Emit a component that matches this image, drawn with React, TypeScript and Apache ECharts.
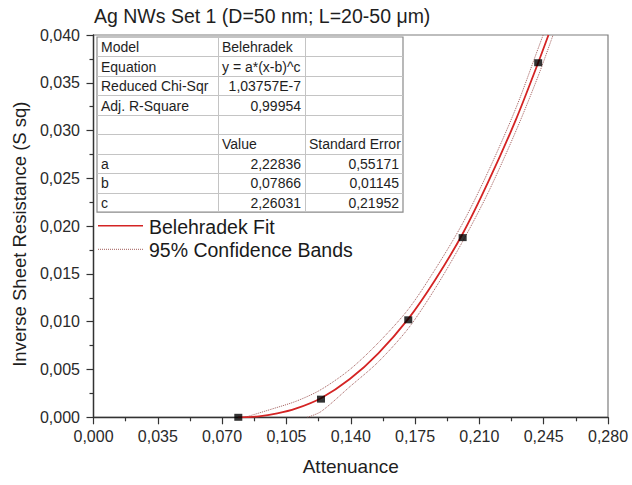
import React, { useEffect, useRef } from "react";
import * as echarts from "echarts";

const titleText = "Ag NWs Set 1 (D=50 nm; L=20-50 μm)";
const xAxisName = "Attenuance";
const yAxisName = "Inverse Sheet Resistance (S sq)";

// measured data points
const pointX = [0.0788, 0.1238, 0.1713, 0.2009, 0.242];
const pointY = [0.0, 0.0019, 0.0102, 0.0188, 0.0371];

// fit curve
const fitX = [0.0787, 0.09, 0.1, 0.11, 0.1238, 0.1395, 0.155, 0.1713, 0.186, 0.2009, 0.215, 0.23, 0.242, 0.2476];
const fitY = [0, 0.0001, 0.0004, 0.0009, 0.002, 0.004, 0.0067, 0.0103, 0.0144, 0.0192, 0.0247, 0.0312, 0.0371, 0.04];

// 95% confidence bands
const upperX = [0.0824, 0.096, 0.1105, 0.1238, 0.1395, 0.155, 0.1713, 0.186, 0.2009, 0.215, 0.23, 0.242, 0.2447];
const upperY = [0, 0.0008, 0.0017, 0.0029, 0.005, 0.0078, 0.0113, 0.0155, 0.0203, 0.0258, 0.0324, 0.0386, 0.04];
const lowerX = [0.1163, 0.1238, 0.1395, 0.155, 0.1713, 0.186, 0.2009, 0.215, 0.23, 0.242, 0.2501];
const lowerY = [0, 0.0006, 0.0032, 0.0058, 0.0093, 0.0135, 0.0184, 0.0236, 0.03, 0.0357, 0.04];

// fit report table
const tableCol1 = ["Model", "Equation", "Reduced Chi-Sqr", "Adj. R-Square", "", "", "a", "b", "c"];
const tableCol2 = ["Belehradek", "y = a*(x-b)^c", "1,03757E-7", "0,99954", "", "Value", "2,22836", "0,07866", "2,26031"];
const tableCol3 = ["", "", "", "", "", "Standard Error", "0,55171", "0,01145", "0,21952"];

const legendLabels = ["Belehradek Fit", "95% Confidence Bands"];

const FONT = "'Liberation Sans', Arial, sans-serif";
const FIT_COLOR = "#d42424";
const BAND_COLOR = "#a05a58";

const fmt = (v: number) => v.toFixed(3).replace(".", ",");

function buildTable() {
  const x0 = 97;
  const y0 = 37;
  const rowH = 19.45;
  const colW = [121, 87, 98];
  const cols = [tableCol1, tableCol2, tableCol3];
  const children: any[] = [];
  const totalW = colW[0] + colW[1] + colW[2];
  const nRows = tableCol1.length;
  children.push({
    type: "rect",
    shape: { x: x0, y: y0, width: totalW, height: rowH * nRows },
    style: { fill: "#ffffff", stroke: "#8a8a8a", lineWidth: 1.2 },
  });
  for (let r = 1; r < nRows; r++) {
    const y = Math.round(y0 + r * rowH) + 0.5;
    children.push({
      type: "line",
      shape: { x1: x0, y1: y, x2: x0 + totalW, y2: y },
      style: { stroke: "#c4c4c4", lineWidth: 1 },
    });
  }
  let cx = x0;
  for (let c = 0; c < 2; c++) {
    cx += colW[c];
    children.push({
      type: "line",
      shape: { x1: cx + 0.5, y1: y0, x2: cx + 0.5, y2: y0 + rowH * nRows },
      style: { stroke: "#c4c4c4", lineWidth: 1 },
    });
  }
  const isNum = (s: string) => /^[0-9,E\-]+$/.test(s);
  let left = x0;
  for (let c = 0; c < 3; c++) {
    for (let r = 0; r < nRows; r++) {
      const t = cols[c][r];
      if (!t) continue;
      const right = isNum(t);
      children.push({
        type: "text",
        x: right ? left + colW[c] - 4 : left + 4,
        y: y0 + r * rowH + rowH / 2 + 0.5,
        style: {
          text: t,
          fill: "#1e1e1e",
          font: `14px ${FONT}`,
          align: right ? "right" : "left",
          verticalAlign: "middle",
        },
      });
    }
    left += colW[c];
  }
  return { type: "group", children };
}

function buildLegend() {
  const lx1 = 98;
  const lx2 = 143;
  const ys = [225.7, 249.3];
  return {
    type: "group",
    children: [
      {
        type: "line",
        shape: { x1: lx1, y1: ys[0], x2: lx2, y2: ys[0] },
        style: { stroke: FIT_COLOR, lineWidth: 1.6 },
      },
      {
        type: "line",
        shape: { x1: lx1, y1: ys[1], x2: lx2, y2: ys[1] },
        style: { stroke: BAND_COLOR, lineWidth: 1, lineDash: [1, 1] },
      },
      ...legendLabels.map((t, i) => ({
        type: "text",
        x: 149,
        y: ys[i] + 1,
        style: { text: t, fill: "#1a1a1a", font: `19.5px ${FONT}`, verticalAlign: "middle", align: "left" },
      })),
    ],
  };
}

export default function App() {
  const ref = useRef<HTMLDivElement>(null);
  useEffect(() => {
    if (!ref.current) return;
    const chart = echarts.init(ref.current, null, { renderer: "svg" });
    const zip = (xs: number[], ys: number[]) => xs.map((x, i) => [x, ys[i]]);
    chart.setOption({
      animation: false,
      backgroundColor: "#ffffff",
      textStyle: { fontFamily: FONT },
      title: {
        text: titleText,
        left: 89,
        top: 1,
        textStyle: { fontFamily: FONT, fontSize: 19.5, fontWeight: "normal", color: "#1e1e1e" },
      },
      grid: {
        left: 93.5,
        right: 24,
        top: 35,
        bottom: 67.7,
        show: true,
        borderColor: "#7d7d7d",
        borderWidth: 1.2,
        backgroundColor: "transparent",
      },
      xAxis: {
        type: "value",
        min: 0,
        max: 0.28,
        interval: 0.035,
        name: xAxisName,
        nameLocation: "middle",
        nameGap: 40,
        nameTextStyle: { fontFamily: FONT, fontSize: 19, color: "#1e1e1e" },
        axisLine: { show: true, onZero: false, lineStyle: { color: "#333", width: 1.4 } },
        axisTick: { show: true, inside: false, length: 7, lineStyle: { color: "#333", width: 1.2 } },
        minorTick: { show: true, splitNumber: 2, length: 4, lineStyle: { color: "#333", width: 1.2 } },
        splitLine: { show: false },
        axisLabel: { formatter: fmt, fontFamily: FONT, fontSize: 16, color: "#2a2a2a", margin: 11 },
      },
      yAxis: {
        type: "value",
        min: 0,
        max: 0.04,
        interval: 0.005,
        name: yAxisName,
        nameLocation: "middle",
        nameGap: 64,
        nameTextStyle: { fontFamily: FONT, fontSize: 18.5, color: "#1e1e1e", padding: [0, 16, 0, 0] },
        axisLine: { show: true, onZero: false, lineStyle: { color: "#333", width: 1.4 } },
        axisTick: { show: true, inside: false, length: 7, lineStyle: { color: "#333", width: 1.2 } },
        minorTick: { show: true, splitNumber: 2, length: 4, lineStyle: { color: "#333", width: 1.2 } },
        splitLine: { show: false },
        axisLabel: { formatter: fmt, fontFamily: FONT, fontSize: 16, color: "#2a2a2a", margin: 13.5 },
      },
      series: [
        {
          name: "95% Confidence Bands",
          type: "line",
          data: zip(upperX, upperY),
          smooth: 0.3,
          showSymbol: false,
          lineStyle: { color: BAND_COLOR, width: 1, type: [1, 1] },
          z: 2,
        },
        {
          name: "95% Confidence Bands lower",
          type: "line",
          data: zip(lowerX, lowerY),
          smooth: 0.3,
          showSymbol: false,
          lineStyle: { color: BAND_COLOR, width: 1, type: [1, 1] },
          z: 2,
        },
        {
          name: "Belehradek Fit",
          type: "line",
          data: zip(fitX, fitY),
          smooth: 0.3,
          showSymbol: false,
          lineStyle: { color: FIT_COLOR, width: 1.8 },
          z: 3,
        },
        {
          name: "Data",
          type: "scatter",
          data: zip(pointX, pointY),
          symbol: "rect",
          symbolSize: [8, 7],
          itemStyle: { color: "#000000" },
          z: 4,
        },
      ],
      graphic: [buildTable(), buildLegend()],
    });
    return () => chart.dispose();
  }, []);
  return (
    <div
      ref={ref}
      style={{ position: "fixed", left: 0, top: 0, width: 632, height: 485, background: "#fff" }}
    />
  );
}
